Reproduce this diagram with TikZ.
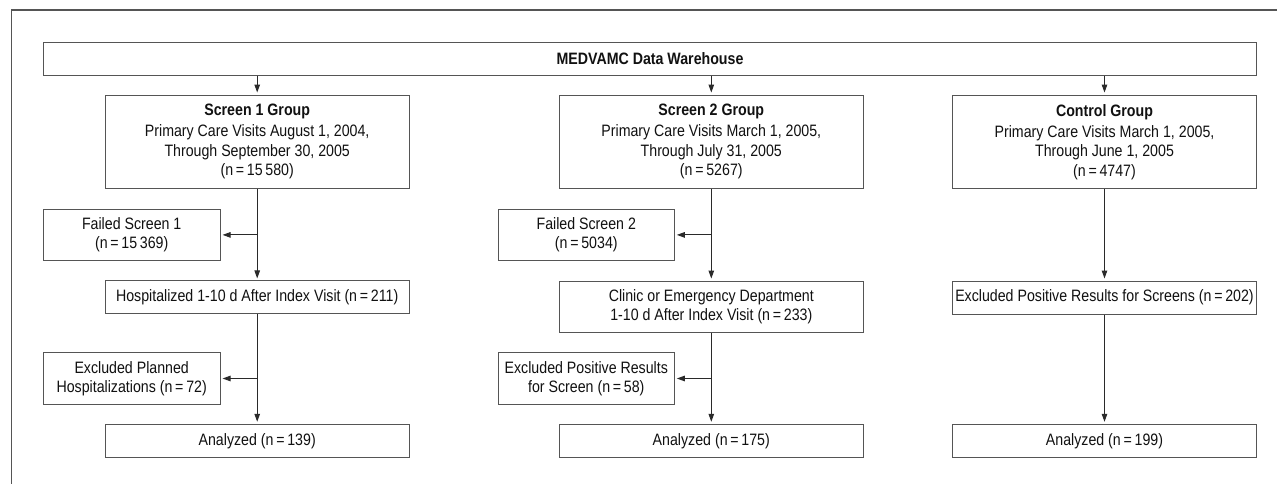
\documentclass[tikz,border=0pt]{standalone}
\usepackage{fontspec}
\setmainfont{Liberation Sans}[FakeStretch=0.86]
\usetikzlibrary{arrows.meta}
\definecolor{boxc}{HTML}{555555}
\definecolor{linec}{HTML}{2a2a2a}
\definecolor{txt}{HTML}{111111}
\begin{document}
\begin{tikzpicture}[x=1pt,y=-1pt,
  box/.style={draw=boxc,line width=1pt,inner sep=0pt,align=center,text=txt,
    font=\fontsize{16.5}{19.5}\selectfont},
  conn/.style={draw=linec,line width=1pt,-{Triangle[length=8pt,width=5.5pt]},shorten >=2pt}]
\useasboundingbox (0,0) rectangle (1277,484);
\fill[white] (0,0) rectangle (1277,484);
\draw[boxc,line width=1.2pt] (11.7,484) -- (11.7,10) -- (1277,10);

\node[box,minimum width=1213.4pt,minimum height=32.7pt] (top) at (650,58.7) {\textbf{MEDVAMC Data Warehouse}};

\node[box,minimum width=304.3pt,minimum height=93.7pt] (s1) at (257.2,141.9)
  {\textbf{Screen 1 Group}\\[1.5pt]Primary Care Visits August 1, 2004,\\Through September 30, 2005\\(n\,=\,15\,580)};
\node[box,minimum width=304pt,minimum height=93.7pt] (s2) at (711.3,141.9)
  {\textbf{Screen 2 Group}\\[1.5pt]Primary Care Visits March 1, 2005,\\Through July 31, 2005\\(n\,=\,5267)};
\node[box,minimum width=304.4pt,minimum height=93.7pt] (ctrl) at (1104.5,141.9)
  {\textbf{Control Group}\\[1.5pt]Primary Care Visits March 1, 2005,\\Through June 1, 2005\\(n\,=\,4747)};

\node[box,minimum width=176.7pt,minimum height=51.7pt] (f1) at (131.7,234.9) {Failed Screen 1\\(n\,=\,15\,369)};
\node[box,minimum width=304.3pt,minimum height=32.7pt] (h1) at (257.2,297.3) {Hospitalized 1-10 d After Index Visit (n\,=\,211)};
\node[box,minimum width=176.7pt,minimum height=52.4pt] (e1) at (131.7,378.5) {Excluded Planned\\Hospitalizations (n\,=\,72)};
\node[box,minimum width=304.3pt,minimum height=33.4pt] (a1) at (257.2,441) {Analyzed (n\,=\,139)};

\node[box,minimum width=176pt,minimum height=51.7pt] (f2) at (586.3,234.9) {Failed Screen 2\\(n\,=\,5034)};
\node[box,minimum width=304pt,minimum height=51.3pt] (c2) at (711.3,306.7) {Clinic or Emergency Department\\1-10 d After Index Visit (n\,=\,233)};
\node[box,minimum width=176pt,minimum height=52.4pt] (e2) at (586.3,378.5) {Excluded Positive Results\\for Screen (n\,=\,58)};
\node[box,minimum width=304pt,minimum height=33.4pt] (a2) at (711.3,441) {Analyzed (n\,=\,175)};

\node[box,minimum width=304.4pt,minimum height=33pt] (e3) at (1104.5,297.5) {Excluded Positive Results for Screens (n\,=\,202)};
\node[box,minimum width=304.4pt,minimum height=33.4pt] (a3) at (1104.5,441) {Analyzed (n\,=\,199)};

\draw[conn] (top.south -| s1.north) -- (s1.north);
\draw[conn] (top.south -| s2.north) -- (s2.north);
\draw[conn] (top.south -| ctrl.north) -- (ctrl.north);

\draw[conn] (s1.south) -- (h1.north);
\draw[conn] (s1.south |- f1.east) -- (f1.east);
\draw[conn] (h1.south) -- (a1.north);
\draw[conn] (h1.south |- e1.east) -- (e1.east);

\draw[conn] (s2.south) -- (c2.north);
\draw[conn] (s2.south |- f2.east) -- (f2.east);
\draw[conn] (c2.south) -- (a2.north);
\draw[conn] (c2.south |- e2.east) -- (e2.east);

\draw[conn] (ctrl.south) -- (e3.north);
\draw[conn] (e3.south) -- (a3.north);
\end{tikzpicture}
\end{document}
